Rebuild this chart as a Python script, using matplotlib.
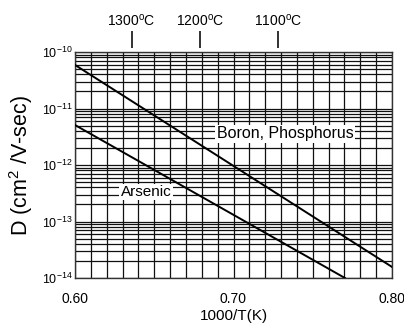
import numpy as np
import matplotlib
matplotlib.use("Agg")
import matplotlib.pyplot as plt
from matplotlib.ticker import MultipleLocator, FixedLocator, NullFormatter, LogFormatterSciNotation

plt.rcParams['font.family'] = ['Liberation Sans', 'DejaVu Sans']
plt.rcParams['mathtext.fontset'] = 'custom'
plt.rcParams['mathtext.rm'] = 'Liberation Sans'
plt.rcParams['mathtext.it'] = 'Liberation Sans:italic'
plt.rcParams['mathtext.default'] = 'regular'

# ---- data ----
boron_x = [0.60, 0.80]
boron_D = [5.9e-11, 1.57e-14]
arsenic_x = [0.60, 0.7703]
arsenic_D = [5.1e-12, 1.0e-14]
x_ticks = [0.60, 0.70, 0.80]
x_tick_labels = ["0.60", "0.70", "0.80"]
y_decades = [1e-14, 1e-13, 1e-12, 1e-11, 1e-10]
temps_C = [1300, 1200, 1100]
temp_labels = ["1300$^{\\rm o}$C", "1200$^{\\rm o}$C", "1100$^{\\rm o}$C"]

fig = plt.figure(figsize=(4.04, 3.23), dpi=100)
ax = fig.add_axes([75/404, 1-278/323, (392-75)/404, (278-52)/323])

ax.set_yscale('log')
ax.set_xlim(0.60, 0.80)
ax.set_ylim(1e-14, 1e-10)

ax.plot(boron_x, boron_D, color='black', lw=1.4, zorder=3)
ax.plot(arsenic_x, arsenic_D, color='black', lw=1.4, zorder=3)

# grid
ax.xaxis.set_major_locator(FixedLocator(x_ticks))
ax.set_xticklabels(x_tick_labels)
ax.xaxis.set_minor_locator(MultipleLocator(0.01))
ax.yaxis.set_major_locator(FixedLocator(y_decades))
ax.yaxis.set_major_formatter(LogFormatterSciNotation())
minor_y = [m * d for d in y_decades[:-1] for m in range(2, 10)]
ax.yaxis.set_minor_locator(FixedLocator(minor_y))
ax.yaxis.set_minor_formatter(NullFormatter())
ax.grid(True, which='both', color='#111111', lw=0.9)
ax.set_axisbelow(True)

ax.tick_params(axis='x', which='both', length=0, pad=10, labelsize=10)
ax.tick_params(axis='y', which='both', length=0, pad=2, labelsize=9)
for s in ax.spines.values():
    s.set_linewidth(1.0)
    s.set_color('#333333')

ax.set_xlabel("1000/T(K)", fontsize=11, labelpad=2)
ax.set_ylabel("D (cm$^2$ /V-sec)", fontsize=15.5, labelpad=5)

# labels on lines
bb = dict(facecolor='white', edgecolor='none', pad=1.0)
ax.text(0.7325, 3.54e-12, "Boron, Phosphorus", fontsize=11.5, ha='center', va='center', bbox=bb, zorder=4)
ax.text(0.6448, 3.33e-13, "Arsenic", fontsize=11, ha='center', va='center', bbox=bb, zorder=4)

# top temperature axis
ax2 = ax.twiny()
ax2.set_xlim(ax.get_xlim())
ax2.set_xticks([1000.0 / (t + 273.15) for t in temps_C])
ax2.set_xticklabels(temp_labels)
ax2.xaxis.set_minor_locator(FixedLocator([]))
ax2.spines['top'].set_position(('outward', 3))
for s in ax2.spines.values():
    s.set_visible(False)
ax2.tick_params(axis='x', direction='out', length=12.2, width=1.3, pad=1.5, labelsize=10, color='#222222')

fig.savefig("out.png", dpi=100)
